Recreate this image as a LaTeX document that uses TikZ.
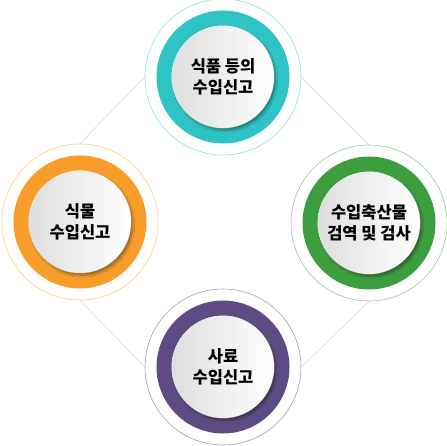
\documentclass[tikz,border=0pt]{standalone}
\usepackage{fontspec}
\newfontfamily\krfont{Noto Sans CJK KR}
\usetikzlibrary{shadows.blur}
\definecolor{ringteal}{HTML}{2EC4C6}
\definecolor{ringorange}{HTML}{F99D2A}
\definecolor{ringgreen}{HTML}{3C9E3F}
\definecolor{ringpurple}{HTML}{5E4B83}
\tikzset{
    outer ring/.style={
        draw=#1!55,line width=0.6pt,circle,
        minimum size=156pt,inner sep=0pt
    },
    thick ring/.style={
        draw=#1,line width=15pt,circle,
        minimum size=118pt,inner sep=0pt
    },
    label disk/.style={
        circle,minimum size=102pt,inner sep=0pt,
        left color=black!13,right color=white,
        blur shadow={shadow xshift=2pt,shadow yshift=-2.5pt,shadow blur steps=6,shadow opacity=35},
        align=center,
        font=\krfont\bfseries\fontsize{16.5}{21.5}\selectfont
    },
    link/.style={gray!35,line width=0.5pt}
}
\begin{document}
\begin{tikzpicture}[x=1pt,y=-1pt]
\useasboundingbox (0,0) rectangle (446,446);
\foreach \name/\x/\y/\col/\txt in {top/223/77/ringteal/{식품 등의\\수입신고},left/80/222/ringorange/{식물\\수입신고},right/369/223/ringgreen/{수입축산물\\검역 및 검사},bottom/223/367/ringpurple/{사료\\수입신고}}{
    \node[outer ring=\col] (ring_\name) at (\x,\y) {};
    \node[thick ring=\col] (band_\name) at (\x,\y) {};
    \node[label disk] (disk_\name) at (\x,\y) {\txt};
}
\draw[link] (ring_top.west) -- (ring_left.north);
\draw[link] (ring_top.east) -- (ring_right.north);
\draw[link] (ring_left.south) -- (ring_bottom.west);
\draw[link] (ring_right.south) -- (ring_bottom.east);
\end{tikzpicture}
\end{document}
